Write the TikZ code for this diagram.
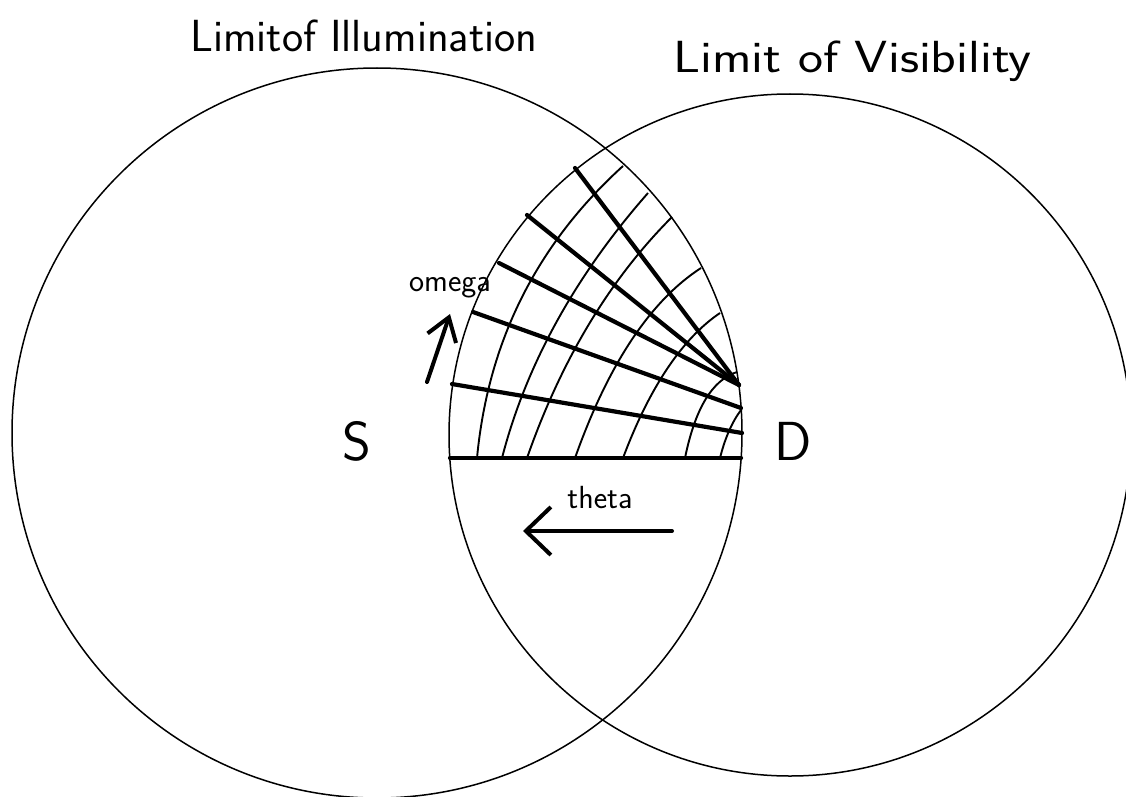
\documentclass[tikz,border=0pt]{standalone}
\usepackage{fontspec}
\usetikzlibrary{arrows.meta, calc}

\begin{document}
\begin{tikzpicture}[
    x=1pt, y=-1pt,
    limit/.style={line width=1.5pt},
    omegaline/.style={line width=4.2pt, line cap=round},
    thetaline/.style={line width=1.9pt},
    dirarrow/.style={line width=4pt, line cap=round, -{Straight Barb[length=22pt, width=30pt]}},
    titletext/.style={font=\sffamily\fontsize{45}{50}\selectfont, anchor=base west, inner sep=0pt},
    pointname/.style={font=\sffamily\fontsize{55}{60}\selectfont, inner sep=0pt},
    axisname/.style={font=\sffamily\fontsize{32}{36}\selectfont, anchor=base, inner sep=0pt}
]
    \useasboundingbox (0,0) rectangle (1126,797);

    % the two limits
    \coordinate (cs) at (377,433);
    \coordinate (cd) at (790,435);
    \draw[limit] (cs) circle[radius=365pt];
    \draw[limit] (cd) circle[radius=341pt];

    \node[titletext] (illum) at (190,52) {Limitof Illumination};
    \node[titletext] (visib) at (673,73) {\scalebox{1.18}[1]{Limit of Visibility}};
    \node[pointname] (S) at (357,441) {S};
    \node[pointname] (D) at (793,441) {D};

    % theta lines
    \draw[thetaline] (477,458) .. controls (488,342) and (536,245) .. (623,166);
    \draw[thetaline] (502,458) .. controls (526,365) and (575,276) .. (648,193);
    \draw[thetaline] (527,458) .. controls (562,358) and (611,278) .. (672,217);
    \draw[thetaline] (575,458) .. controls (608,365) and (650,301) .. (701,268);
    \draw[thetaline] (623,458) .. controls (650,386) and (683,338) .. (720,313);
    \draw[thetaline] (685,458) .. controls (695,409) and (712,380) .. (737,372);
    \draw[thetaline] (720,458) .. controls (725,438) and (732,422) .. (741,410);

    % omega lines
    \coordinate (fan) at (739,385);
    \draw[omegaline] (575,168) -- (fan);
    \draw[omegaline] (527,215) -- (fan);
    \draw[omegaline] (499,263) -- (fan);
    \draw[omegaline] (473,312) -- (741,408);
    \draw[omegaline] (452,384) -- (742,433);
    \draw[omegaline] (450,458) -- (741,458);

    % directions
    \node[axisname] (omega) at (450,291) {omega};
    \coordinate (otail) at (427,382);
    \coordinate (otip) at (450,314);
    \draw[dirarrow] (otail) -- (otip);

    \node[axisname] (theta) at (600,508) {theta};
    \coordinate (ttail) at (672,531);
    \coordinate (ttip) at (523,531);
    \draw[dirarrow, -{Straight Barb[length=25pt, width=48pt]}] (ttail) -- (ttip);
\end{tikzpicture}
\end{document}
